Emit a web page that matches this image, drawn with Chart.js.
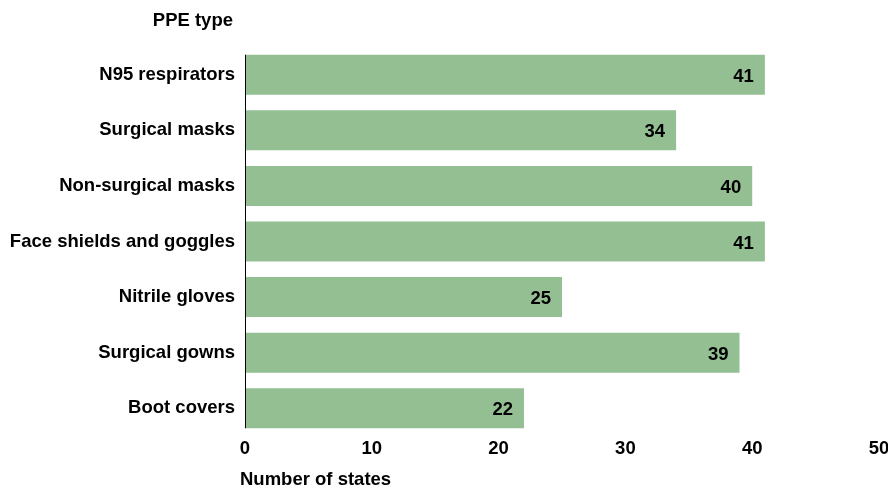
<!DOCTYPE html>
<html>
<head>
<meta charset="utf-8">
<script src="https://cdn.jsdelivr.net/npm/chart.js@4/dist/chart.umd.min.js"></script>
<style>
  html, body { margin: 0; padding: 0; background: #fff; }
  #wrap { width: 888px; height: 489px; }
</style>
</head>
<body>
<div id="wrap"><canvas id="myChart"></canvas></div>
<script>
const categories = ["N95 respirators", "Surgical masks", "Non-surgical masks", "Face shields and goggles", "Nitrile gloves", "Surgical gowns", "Boot covers"];
const states = [41, 34, 40, 41, 25, 39, 22];
const xTicks = [0, 10, 20, 30, 40, 50];

const FONT = "'Liberation Sans', Arial, sans-serif";
const FSIZE = 18.5;

// extra text + axis line that Chart.js doesn't place the way the reference does
const extras = {
  id: "extras",
  afterDatasetsDraw(chart) {
    const ctx = chart.ctx;
    const meta = chart.getDatasetMeta(0);
    ctx.save();
    ctx.font = "bold " + FSIZE + "px " + FONT;
    ctx.fillStyle = "#000";
    ctx.textAlign = "right";
    ctx.textBaseline = "middle";
    meta.data.forEach((bar, i) => {
      ctx.fillText(String(states[i]), bar.x - 11, bar.y + 2);
    });

    // y axis line only across the bars
    const first = meta.data[0], last = meta.data[meta.data.length - 1];
    const x0 = chart.scales.x.getPixelForValue(0);
    ctx.strokeStyle = "#000";
    ctx.lineWidth = 1;
    ctx.beginPath();
    ctx.moveTo(x0 + 0.5, first.y - first.height / 2);
    ctx.lineTo(x0 + 0.5, last.y + last.height / 2);
    ctx.stroke();

    ctx.textBaseline = "alphabetic";
    ctx.textAlign = "right";
    ctx.fillText("PPE type", 233, 26);
    ctx.textAlign = "left";
    ctx.fillText("Number of states", 240, 485);
    ctx.restore();
  }
};

new Chart(document.getElementById("myChart"), {
  type: "bar",
  data: {
    labels: categories,
    datasets: [{
      data: states,
      backgroundColor: "#93bf93",
      borderWidth: 0,
      barPercentage: 0.72,
      categoryPercentage: 1
    }]
  },
  options: {
    indexAxis: "y",
    responsive: true,
    maintainAspectRatio: false,
    animation: false,
    layout: { padding: { top: 47, right: 0, left: 0, bottom: 0 } },
    plugins: { legend: { display: false }, tooltip: { enabled: false } },
    scales: {
      x: {
        min: 0, max: 50,
        afterBuildTicks: (s) => { s.ticks = xTicks.map(v => ({ value: v })); },
        grid: { display: false, drawTicks: false },
        border: { display: false },
        ticks: { color: "#000", font: { family: FONT, size: FSIZE, weight: "bold" }, padding: 2, maxRotation: 0 },
        afterFit: (s) => { s.height = 53; s.paddingRight = 9; }
      },
      y: {
        grid: { display: false, drawTicks: false },
        border: { display: false },
        ticks: { color: "#000", font: { family: FONT, size: FSIZE, weight: "bold" }, padding: 10 },
        afterFit: (s) => { s.width = 245; }
      }
    }
  },
  plugins: [extras]
});
</script>
</body>
</html>
